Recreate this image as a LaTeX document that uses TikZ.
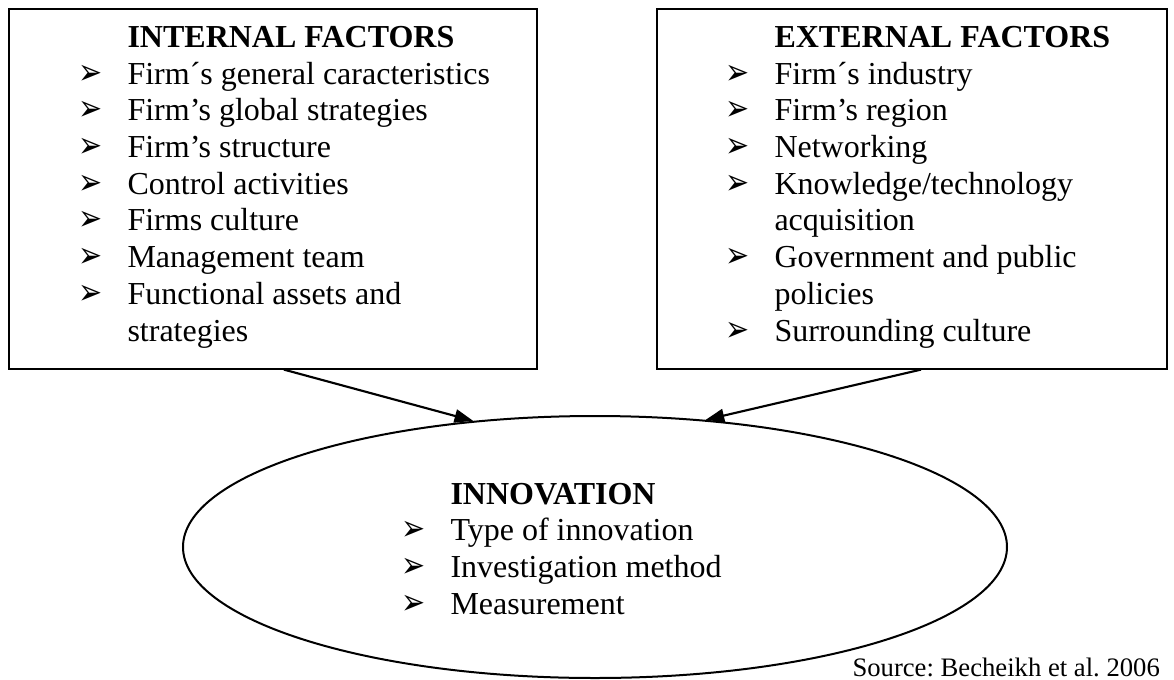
\documentclass[tikz,border=0pt]{standalone}
\usepackage{fontspec}
\usepackage{graphicx}
\setmainfont{Liberation Serif}
\newfontfamily\dingfont{DejaVu Sans}
\usetikzlibrary{shapes.geometric,calc,arrows.meta}
\frenchspacing
\newcommand{\itm}{\makebox[17.25pt][l]{\hspace*{-1pt}\scalebox{0.8}[1]{\dingfont\fontsize{13.5}{13.5}\selectfont ➢}}}
\newcommand{\noitm}{\hspace*{17.25pt}}

\begin{document}
\begin{tikzpicture}[x=0.375pt,y=-0.375pt,
		factorbox/.style={draw=black,line width=0.6pt,anchor=north west,minimum height=135pt,inner sep=0pt},
		itemlist/.style={anchor=base west,inner sep=0pt,font=\fontsize{12}{13.76}\selectfont},
		link/.style={-{Triangle[length=7pt,width=5pt]},line width=0.8pt}]
	\useasboundingbox (0,0) rectangle (1174,680);
	\node[factorbox,minimum width=198pt] (internal) at (8,8) {};
	\node[factorbox,minimum width=191.25pt] (external) at (656,8) {};
	\node[ellipse,draw=black,line width=0.75pt,minimum width=309pt,minimum height=98.25pt,inner sep=0pt] (innov) at (595,547) {};
	\node[itemlist] (inlist) at (81,47.5) {\begin{tabular}[t]{@{}l@{}}
			\noitm\textbf{INTERNAL FACTORS}\\
			\itm Firm´s general caracteristics\\
			\itm Firm’s global strategies\\
			\itm Firm’s structure\\
			\itm Control activities\\
			\itm Firms culture\\
			\itm Management team\\
			\itm Functional assets and\\
			\noitm strategies
		\end{tabular}};
	\node[itemlist] (exlist) at (728,47.5) {\begin{tabular}[t]{@{}l@{}}
			\noitm\textbf{EXTERNAL FACTORS}\\
			\itm Firm´s industry\\
			\itm Firm’s region\\
			\itm Networking\\
			\itm Knowledge/technology\\
			\noitm acquisition\\
			\itm Government and public\\
			\noitm policies\\
			\itm Surrounding culture
		\end{tabular}};
	\node[itemlist] (innlist) at (404,504) {\begin{tabular}[t]{@{}l@{}}
			\noitm\textbf{INNOVATION}\\
			\itm Type of innovation\\
			\itm Investigation method\\
			\itm Measurement
		\end{tabular}};
	\draw[link] ($(internal.south west)!0.521!(internal.south east)$) -- (innov.134);
	\draw[link] ($(external.south west)!0.518!(external.south east)$) -- (innov.49);
	\node[anchor=base west,inner sep=0pt,font=\fontsize{10}{12}\selectfont] (source) at (852,676) {Source: Becheikh et al. 2006};
\end{tikzpicture}
\end{document}
